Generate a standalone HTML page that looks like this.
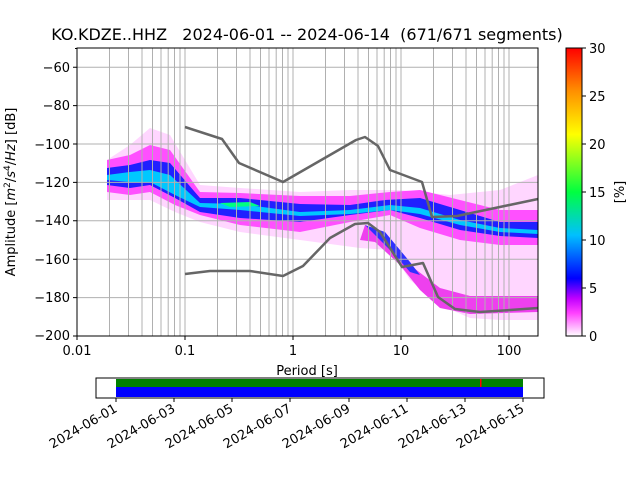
<html><body style="margin:0;background:#fff">
<svg width="640" height="480" xmlns="http://www.w3.org/2000/svg" font-family="DejaVu Sans, Liberation Sans, sans-serif" font-size="13">
<defs>
<linearGradient id="cb" x1="0" y1="1" x2="0" y2="0">
<stop offset="0" stop-color="#fff"/><stop offset="0.08" stop-color="#ff40ff"/><stop offset="0.13" stop-color="#c000ff"/><stop offset="0.2" stop-color="#0000ff"/><stop offset="0.35" stop-color="#00c0ff"/><stop offset="0.5" stop-color="#00ff40"/><stop offset="0.7" stop-color="#ffff00"/><stop offset="0.85" stop-color="#ff9000"/><stop offset="1" stop-color="#ff0000"/>
</linearGradient>
<clipPath id="ax"><rect x="77" y="48" width="461" height="288"/></clipPath>
</defs>
<rect x="77" y="48" width="461" height="288" fill="#fff"/>
<g clip-path="url(#ax)">
<path d="M107,160 L130,145 L150,128 L170,135 L200,185 L240,188 L300,192 L350,190 L400,190 L450,195 L500,190 L538,175 L538,320 L500,320 L470,318 L440,305 L410,280 L390,250 L360,248 L300,240 L240,232 L200,222 L175,212 L150,200 L130,200 L107,200 Z" fill="#ffd6ff"/>
<path d="M107,160 L130,155 L150,145 L170,150 L200,192 L240,193 L300,196 L350,196 L390,192 L420,190 L460,200 L500,210 L538,210 L538,245 L500,245 L460,240 L420,228 L390,215 L350,222 L300,232 L240,225 L200,215 L175,205 L150,192 L130,195 L107,192 Z" fill="#ff50ff"/>
<path d="M365,225 L390,240 L410,265 L440,288 L470,296 L538,296 L538,312 L470,314 L440,308 L420,290 L400,265 L375,242 L360,240 Z" fill="#ee40ee"/>
<path d="M365,225 L385,232 L400,250 L410,262 L420,275 L410,272 L395,255 L380,240 Z" fill="#3030ff"/>
<path d="M107,168 L130,165 L150,160 L170,163 L200,198 L240,198 L300,204 L350,205 L385,200 L420,198 L460,210 L500,222 L538,222 L538,238 L500,236 L460,230 L420,218 L390,210 L350,215 L300,222 L240,218 L200,212 L175,198 L150,185 L130,188 L107,185 Z" fill="#2020ff"/>
<path d="M107,175 L130,172 L150,170 L170,175 L200,203 L240,204 L300,212 L350,210 L390,205 L420,208 L460,220 L500,228 L538,230 L538,234 L500,232 L460,225 L420,214 L390,210 L350,214 L300,216 L240,210 L200,207 L175,195 L150,182 L130,182 L107,180 Z" fill="#00c8ff"/>
<path d="M220,203 L250,202 L260,206 L230,207 Z" fill="#00ff80"/>
</g>
<g stroke="#b0b0b0" stroke-width="1">
<path d="M109.5,48V336M128.5,48V336M142,48V336M152.5,48V336M161,48V336M168.2,48V336M174.5,48V336M180,48V336M185,48V336M217.5,48V336M236.5,48V336M250,48V336M260.5,48V336M269,48V336M276.2,48V336M282.5,48V336M288,48V336M293,48V336M325.5,48V336M344.5,48V336M358,48V336M368.5,48V336M377,48V336M384.2,48V336M390.5,48V336M396,48V336M401,48V336M433.5,48V336M452.5,48V336M466,48V336M476.5,48V336M485,48V336M492.2,48V336M498.5,48V336M504,48V336M509,48V336"/>
<path d="M77,67.2H538M77,105.6H538M77,144H538M77,182.4H538M77,220.8H538M77,259.2H538M77,297.6H538"/>
</g>
<g fill="none" stroke="#666" stroke-width="2.5" stroke-linejoin="round">
<polyline points="185,127 222,139 239,163 283,182 356,140 365,137 378,146 390,170 422,182 432,217 457,216 538,199"/>
<polyline points="185,274 210,271 250,271 283,276 303,266 330,238 355,224 368,223 380,232 402,267 423,263 438,297 455,309 480,312 510,310 538,308"/>
</g>
<rect x="77" y="48" width="461" height="288" fill="none" stroke="#000" stroke-width="1"/>
<g stroke="#000"><path d="M77,336v4M185,336v4M293,336v4M401,336v4M509,336v4M77,67.2h-4M77,105.6h-4M77,144h-4M77,182.4h-4M77,220.8h-4M77,259.2h-4M77,297.6h-4M77,336h-4M77,48.5h-2"/></g>
<g font-size="13" text-anchor="middle">
<text x="77" y="355">0.01</text><text x="185" y="355">0.1</text><text x="293" y="355">1</text><text x="401" y="355">10</text><text x="509" y="355">100</text>
<text x="307" y="375">Period [s]</text>
</g>
<g font-size="13" text-anchor="end">
<text x="70" y="72">−60</text><text x="70" y="110">−80</text><text x="70" y="149">−100</text><text x="70" y="187">−120</text><text x="70" y="225">−140</text><text x="70" y="264">−160</text><text x="70" y="302">−180</text><text x="70" y="340">−200</text>
</g>
<text transform="translate(15,192) rotate(-90)" text-anchor="middle" font-size="13">Amplitude [<tspan font-style="italic">m</tspan><tspan baseline-shift="super" font-size="9">2</tspan>/<tspan font-style="italic">s</tspan><tspan baseline-shift="super" font-size="9">4</tspan>/<tspan font-style="italic">Hz</tspan>] [dB]</text>
<text x="307" y="40" text-anchor="middle" font-size="16" xml:space="preserve" style="white-space:pre">KO.KDZE..HHZ   2024-06-01 -- 2024-06-14  (671/671 segments)</text>
<rect x="566" y="48" width="16" height="288" fill="url(#cb)" stroke="#000"/>
<g stroke="#000"><path d="M582,48h4M582,96h4M582,144h4M582,192h4M582,240h4M582,288h4M582,336h4"/></g>
<g font-size="13"><text x="589" y="53">30</text><text x="589" y="101">25</text><text x="589" y="149">20</text><text x="589" y="197">15</text><text x="589" y="245">10</text><text x="589" y="293">5</text><text x="589" y="341">0</text></g>
<text transform="translate(624,192) rotate(-90)" text-anchor="middle" font-size="13">[%]</text>
<rect x="96" y="378" width="448" height="20" fill="#fff" stroke="#000"/>
<rect x="116" y="379" width="407" height="8" fill="#008000"/>
<rect x="116" y="387" width="407" height="10" fill="#0000ff"/>
<rect x="480" y="379" width="1.5" height="8" fill="#ff0000"/>
<g stroke="#000"><path d="M116,398v4M174,398v4M232,398v4M290,398v4M349,398v4M407,398v4M465,398v4M523,398v4"/></g>
<g font-size="13" text-anchor="end">
<text transform="translate(118,411) rotate(-30)">2024-06-01</text>
<text transform="translate(176,411) rotate(-30)">2024-06-03</text>
<text transform="translate(234,411) rotate(-30)">2024-06-05</text>
<text transform="translate(292,411) rotate(-30)">2024-06-07</text>
<text transform="translate(351,411) rotate(-30)">2024-06-09</text>
<text transform="translate(409,411) rotate(-30)">2024-06-11</text>
<text transform="translate(467,411) rotate(-30)">2024-06-13</text>
<text transform="translate(525,411) rotate(-30)">2024-06-15</text>
</g>
</svg>
</body></html>
